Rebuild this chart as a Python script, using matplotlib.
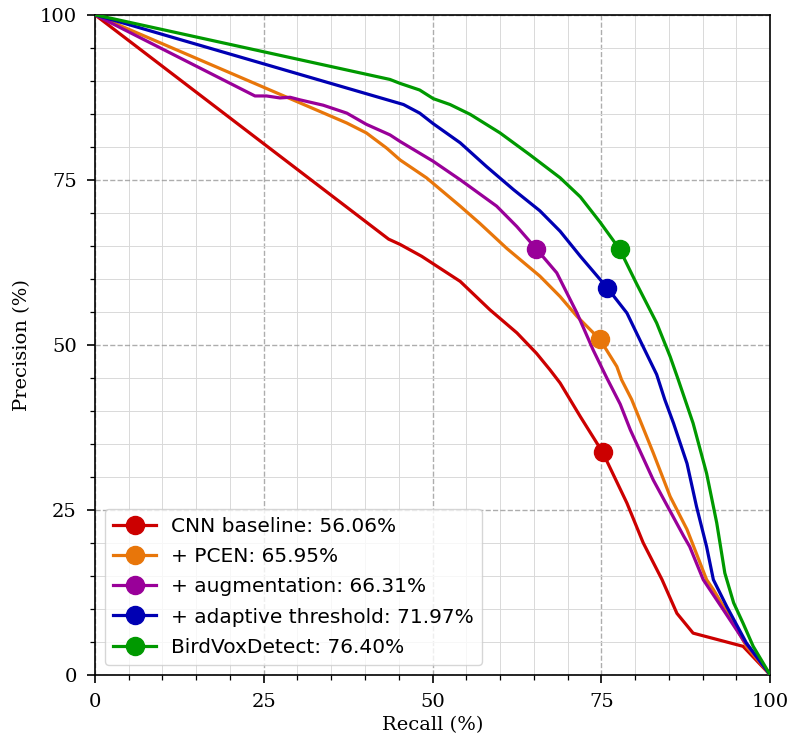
"""Precision-recall curves for the BirdVoxDetect ablation study."""

import matplotlib.pyplot as plt
from matplotlib.ticker import MultipleLocator

LABELS = [
    "CNN baseline: 56.06%",
    "+ PCEN: 65.95%",
    "+ augmentation: 66.31%",
    "+ adaptive threshold: 71.97%",
    "BirdVoxDetect: 76.40%",
]
COLORS = ["#cc0000", "#e8760a", "#990099", "#0000b3", "#009900"]

# recall / precision (percent)
baseline_recall = [0, 43.5, 45.2, 48.4, 54.1, 58.5, 62.5, 65.4, 67.4, 68.9,
                   71.9, 75.2, 78.8, 81.2, 84.0, 86.2, 88.6, 96.0, 100]
baseline_precision = [100, 66.0, 65.2, 63.4, 59.6, 55.3, 51.8, 48.7, 46.2,
                      44.2, 39.1, 33.7, 26.0, 20.0, 14.4, 9.3, 6.3, 4.3, 0]

pcen_recall = [0, 37.3, 40.2, 43.2, 45.2, 49.1, 54.1, 57.0, 61.0, 65.9, 68.9,
               71.4, 74.8, 77.3, 78.0, 79.5, 82.7, 85.2, 87.7, 90.6, 91.6,
               94.6, 96.5, 100]
pcen_precision = [100, 83.6, 82.1, 79.8, 78.0, 75.3, 71.0, 68.4, 64.6, 60.4,
                  57.3, 54.3, 50.8, 46.7, 44.7, 41.7, 33.6, 27.0, 22.0, 14.4,
                  12.9, 7.8, 4.3, 0]

aug_recall = [0, 23.7, 25.4, 27.4, 28.9, 30.4, 33.8, 37.3, 40.2, 43.7, 45.2,
              50.1, 54.1, 59.5, 62.5, 65.4, 68.4, 71.4, 73.8, 75.8, 77.8,
              79.3, 82.7, 87.2, 88.1, 90.1, 93.1, 96.0, 100]
aug_precision = [100, 87.7, 87.7, 87.4, 87.5, 87.1, 86.3, 85.1, 83.4, 81.8,
                 80.8, 77.8, 75.0, 71.0, 67.9, 64.5, 60.9, 54.8, 49.2, 45.0,
                 41.0, 37.1, 29.5, 21.0, 19.4, 14.4, 9.8, 5.3, 0]

thresh_recall = [0, 45.7, 48.1, 50.1, 54.1, 58.0, 62.0, 65.9, 68.9, 71.9,
                 75.9, 78.8, 81.2, 83.2, 84.4, 85.7, 87.7, 89.1, 90.6, 91.6,
                 93.6, 96.5, 100]
thresh_precision = [100, 86.4, 85.1, 83.5, 80.6, 77.0, 73.5, 70.3, 67.2,
                    63.4, 58.6, 54.8, 49.7, 45.5, 41.7, 38.1, 32.0, 25.5,
                    19.4, 14.4, 10.3, 4.8, 0]

bvd_recall = [0, 43.7, 45.2, 48.1, 50.1, 52.6, 55.6, 60.0, 64.4, 68.9, 71.9,
              74.8, 77.7, 80.2, 83.2, 85.2, 86.4, 88.6, 90.6, 92.1, 93.3,
              94.6, 96.0, 97.5, 100]
bvd_precision = [100, 90.2, 89.6, 88.6, 87.3, 86.4, 84.9, 82.1, 78.8, 75.3,
                 72.4, 68.6, 64.5, 59.3, 53.3, 48.2, 44.7, 38.1, 30.5, 23.0,
                 15.4, 10.9, 7.8, 4.3, 0]

# operating point on each curve
point_recall = [75.2, 74.8, 65.4, 75.9, 77.7]
point_precision = [33.7, 50.8, 64.5, 58.6, 64.5]


def main() -> None:
    curves = [
        (baseline_recall, baseline_precision),
        (pcen_recall, pcen_precision),
        (aug_recall, aug_precision),
        (thresh_recall, thresh_precision),
        (bvd_recall, bvd_precision),
    ]

    fig = plt.figure(figsize=(7.98, 7.39), dpi=100)
    ax = fig.add_axes([0.119, 0.087, 0.846, 0.893])

    for i, (rec, prec) in enumerate(curves):
        ax.plot(rec, prec, color=COLORS[i], lw=2.3, zorder=3)
        ax.plot(point_recall[i], point_precision[i], "o", color=COLORS[i],
                ms=13, zorder=4)
        # proxy for the legend: line with marker
        ax.plot([], [], "-o", color=COLORS[i], lw=2.3, ms=13,
                label=LABELS[i])

    ax.set_xlim(0, 100)
    ax.set_ylim(0, 100)
    ax.xaxis.set_major_locator(MultipleLocator(25))
    ax.yaxis.set_major_locator(MultipleLocator(25))
    ax.xaxis.set_minor_locator(MultipleLocator(5))
    ax.yaxis.set_minor_locator(MultipleLocator(5))
    ax.grid(which="major", color="#999999", ls="--", lw=1.0, alpha=0.8)
    ax.grid(which="minor", color="#d9d9d9", ls="-", lw=0.7)
    ax.set_axisbelow(True)

    ax.tick_params(which="major", direction="out", length=6, width=1.2,
                   labelsize=14)
    ax.tick_params(axis="x", which="major", pad=7.5)
    ax.tick_params(axis="y", which="major", pad=7)
    ax.tick_params(which="minor", direction="out", length=3.5, width=0.9)
    for lab in ax.get_xticklabels() + ax.get_yticklabels():
        lab.set_family("DejaVu Serif")
    for sp in ax.spines.values():
        sp.set_linewidth(1.2)

    ax.set_xlabel("Recall (%)", family="DejaVu Serif", fontsize=14,
                  labelpad=3)
    ax.set_ylabel("Precision (%)", family="DejaVu Serif", fontsize=14,
                  labelpad=6)

    ax.legend(loc="lower left", fontsize=14.5, handlelength=2.15,
              handletextpad=0.75, labelspacing=0.55, edgecolor="#cccccc",
              framealpha=0.8)

    fig.savefig("out.png", dpi=100)
    plt.close(fig)


if __name__ == "__main__":
    main()
